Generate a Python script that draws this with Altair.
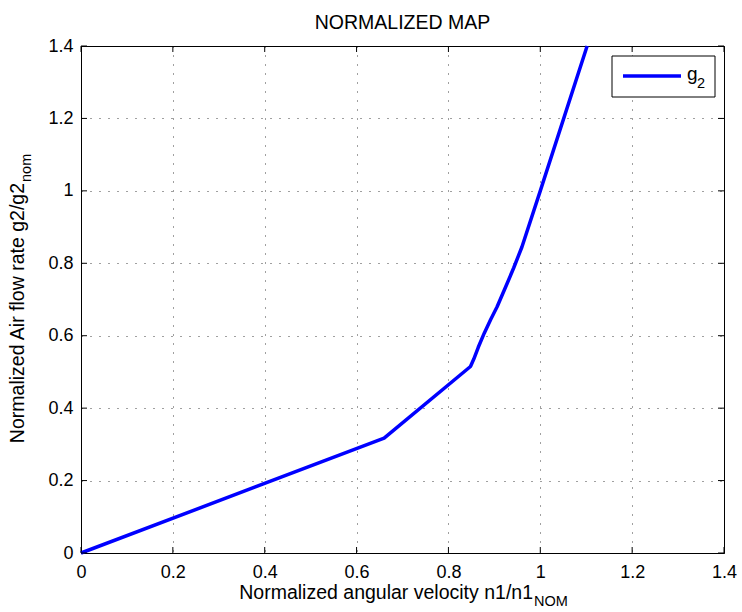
import altair as alt
import pandas as pd

# Normalized compressor map: air flow rate vs angular velocity
n_ratio = [0.0, 0.66, 0.848, 0.855, 0.865, 0.878, 0.892, 0.906, 0.928, 0.942, 0.96, 1.0, 1.102]
g_ratio = [0.0, 0.317, 0.515, 0.535, 0.568, 0.607, 0.645, 0.68, 0.745, 0.787, 0.845, 1.0, 1.4]
tick_values = [0, 0.2, 0.4, 0.6, 0.8, 1.0, 1.2, 1.4]

title_text = "NORMALIZED MAP"
x_title = "Normalized angular velocity n1/n1"
x_title_sub = "NOM"
y_title = "Normalized Air flow rate g2/g2"
y_title_sub = "nom"
legend_label = "g"
legend_sub = "2"

W, H = 643, 507
FONT = "Liberation Sans"
BLUE = "#0000ff"
TICK = 6

curve = pd.DataFrame({"n": n_ratio, "g": g_ratio})
ticks = pd.DataFrame({"v": tick_values})
one = pd.DataFrame({"k": [0]})

x_scale = alt.Scale(domain=[0, 1.4], nice=False, zero=False)
y_scale = alt.Scale(domain=[0, 1.4], nice=False, zero=False)

axis_common = dict(
    values=tick_values, format=".1~f", title=None,
    grid=True, gridColor="#000", gridDash=[1, 8], gridWidth=1, gridOpacity=0.75,
    domainColor="#000", domainWidth=1, ticks=False,
    labelFont=FONT, labelFontSize=18, labelColor="#000",
    labelFlush=False, labelOverlap=False, labelBound=False,
)
x_axis = alt.Axis(labelPadding=10, **axis_common)
y_axis = alt.Axis(labelPadding=8, **axis_common)

line = alt.Chart(curve).mark_line(
    color=BLUE, strokeWidth=3.5, strokeJoin="round"
).encode(
    x=alt.X("n:Q", scale=x_scale, axis=x_axis),
    y=alt.Y("g:Q", scale=y_scale, axis=y_axis),
)

# inward tick marks on all four sides of the box
tick_base = alt.Chart(ticks).mark_rule(color="#000", strokeWidth=1)
x_enc = alt.X("v:Q", scale=x_scale, axis=x_axis)
y_enc = alt.Y("v:Q", scale=y_scale, axis=y_axis)
ticks_bottom = tick_base.encode(x=x_enc, y=alt.value(H), y2=alt.value(H - TICK))
ticks_top = tick_base.encode(x=x_enc, y=alt.value(0), y2=alt.value(TICK))
ticks_left = tick_base.encode(y=y_enc, x=alt.value(0), x2=alt.value(TICK))
ticks_right = tick_base.encode(y=y_enc, x=alt.value(W), x2=alt.value(W - TICK))

# title and axis titles (with subscripts)
def label(text, x, y, size, align="center", angle=0):
    return alt.Chart(one).mark_text(
        text=text, font=FONT, fontSize=size, color="#000",
        align=align, baseline="alphabetic", angle=angle,
    ).encode(x=alt.value(x), y=alt.value(y))

title = label(title_text, W / 2, -17, 19.5)
x_junction = 452
x_main = label(x_title, x_junction, 553, 19.5, align="right")
x_sub = label(x_title_sub, x_junction + 1, 560, 14.5, align="left")
y_junction = 137
y_main = label(y_title, -57, y_junction, 19.5, align="right", angle=270)
y_sub = label(y_title_sub, -50, y_junction - 1, 14.5, align="left", angle=270)

# legend box
legend_box = alt.Chart(one).mark_rect(
    fill="#fff", stroke="#000", strokeWidth=1
).encode(x=alt.value(531), x2=alt.value(634), y=alt.value(10), y2=alt.value(51))
legend_line = alt.Chart(one).mark_rule(color=BLUE, strokeWidth=3.5).encode(
    x=alt.value(542), x2=alt.value(600), y=alt.value(30)
)
legend_g = label(legend_label, 606, 34, 19, align="left")
legend_2 = label(legend_sub, 616, 42, 14.5, align="left")

chart = alt.layer(
    line, ticks_bottom, ticks_top, ticks_left, ticks_right,
    title, x_main, x_sub, y_main, y_sub,
    legend_box, legend_line, legend_g, legend_2,
).properties(
    width=W, height=H,
    autosize=alt.AutoSizeParams(type="none"),
    padding={"left": 81, "top": 46, "right": 18, "bottom": 59},
    background="#fff",
).configure_view(stroke="#000", strokeWidth=1)

chart.save("out.html", embed_options={"renderer": "svg", "actions": False})
